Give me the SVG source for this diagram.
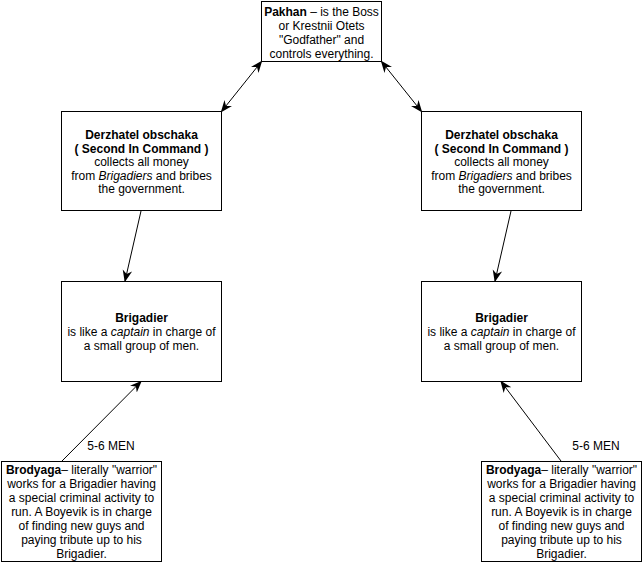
<svg xmlns="http://www.w3.org/2000/svg" width="643" height="563" viewBox="0 0 643 563">
<style>
.box{fill:#fff;stroke:#000;stroke-width:1}
.t{font-family:"Liberation Sans",Arial,Helvetica,sans-serif;font-size:12px;fill:#000;text-anchor:middle}
.edge{stroke:#000;stroke-width:1;fill:none}
</style>
<defs>
<marker id="ah" markerUnits="userSpaceOnUse" markerWidth="12" markerHeight="12" viewBox="0 0 10 10" refX="9" refY="5" orient="auto">
<path d="M0,1 L10,5 L0,9 L3,5 z" fill="#000"/>
</marker>
<marker id="as" markerUnits="userSpaceOnUse" markerWidth="12" markerHeight="12" viewBox="0 0 10 10" refX="1" refY="5" orient="auto">
<path d="M10,1 L0,5 L10,9 L7,5 z" fill="#000"/>
</marker>
</defs>
<g id="connectors">
<line class="edge" x1="261.5" y1="61.5" x2="221.5" y2="111.5" marker-start="url(#as)" marker-end="url(#ah)"/>
<line class="edge" x1="381.5" y1="61.5" x2="421.5" y2="111.5" marker-start="url(#as)" marker-end="url(#ah)"/>
<line class="edge" x1="141" y1="211" x2="125" y2="281" marker-end="url(#ah)"/>
<line class="edge" x1="511" y1="211" x2="495" y2="281" marker-end="url(#ah)"/>
<line class="edge" x1="62" y1="461" x2="141" y2="381.5" marker-end="url(#ah)"/>
<line class="edge" x1="561" y1="461" x2="501" y2="381.5" marker-end="url(#ah)"/>
<text class="t" x="111" y="449.5">5-6 MEN</text>
<text class="t" x="596" y="449.5">5-6 MEN</text>
</g>
<g id="pakhan">
<rect class="box" x="261.5" y="1.5" width="120" height="60"/>
<text class="t" x="321.5" y="16"><tspan font-weight="bold">Pakhan</tspan> – is the Boss</text>
<text class="t" x="321.5" y="30">or Krestnii Otets</text>
<text class="t" x="321.5" y="44">"Godfather" and</text>
<text class="t" x="321.5" y="58">controls everything.</text>
</g>
<g id="derzhatel-left">
<rect class="box" x="61.5" y="111.5" width="160" height="99"/>
<text class="t" x="141.5" y="138.5" font-weight="bold">Derzhatel obschaka</text>
<text class="t" x="141.5" y="152.5" font-weight="bold">( Second In Command )</text>
<text class="t" x="141.5" y="166">collects all money</text>
<text class="t" x="141.5" y="179.5">from <tspan font-style="italic">Brigadiers</tspan> and bribes</text>
<text class="t" x="141.5" y="193">the government.</text>
</g>
<g id="derzhatel-right">
<rect class="box" x="421.5" y="111.5" width="160" height="99"/>
<text class="t" x="501.5" y="138.5" font-weight="bold">Derzhatel obschaka</text>
<text class="t" x="501.5" y="152.5" font-weight="bold">( Second In Command )</text>
<text class="t" x="501.5" y="166">collects all money</text>
<text class="t" x="501.5" y="179.5">from <tspan font-style="italic">Brigadiers</tspan> and bribes</text>
<text class="t" x="501.5" y="193">the government.</text>
</g>
<g id="brigadier-left">
<rect class="box" x="61.5" y="281.5" width="160" height="100"/>
<text class="t" x="141.5" y="322" font-weight="bold">Brigadier</text>
<text class="t" x="141.5" y="335.5">is like a <tspan font-style="italic">captain</tspan> in charge of</text>
<text class="t" x="141.5" y="349.5">a small group of men.</text>
</g>
<g id="brigadier-right">
<rect class="box" x="421.5" y="281.5" width="160" height="100"/>
<text class="t" x="501.5" y="322" font-weight="bold">Brigadier</text>
<text class="t" x="501.5" y="335.5">is like a <tspan font-style="italic">captain</tspan> in charge of</text>
<text class="t" x="501.5" y="349.5">a small group of men.</text>
</g>
<g id="brodyaga-left">
<rect class="box" x="1.5" y="461.5" width="160" height="100"/>
<text class="t" x="81.5" y="473.5"><tspan font-weight="bold">Brodyaga</tspan>– literally "warrior"</text>
<text class="t" x="81.5" y="487.5">works for a Brigadier having</text>
<text class="t" x="81.5" y="501.5">a special criminal activity to</text>
<text class="t" x="81.5" y="515.5">run. A Boyevik is in charge</text>
<text class="t" x="81.5" y="529.5">of finding new guys and</text>
<text class="t" x="81.5" y="543.5">paying tribute up to his</text>
<text class="t" x="81.5" y="557.5">Brigadier.</text>
</g>
<g id="brodyaga-right">
<rect class="box" x="481.5" y="461.5" width="160" height="100"/>
<text class="t" x="561.5" y="473.5"><tspan font-weight="bold">Brodyaga</tspan>– literally "warrior"</text>
<text class="t" x="561.5" y="487.5">works for a Brigadier having</text>
<text class="t" x="561.5" y="501.5">a special criminal activity to</text>
<text class="t" x="561.5" y="515.5">run. A Boyevik is in charge</text>
<text class="t" x="561.5" y="529.5">of finding new guys and</text>
<text class="t" x="561.5" y="543.5">paying tribute up to his</text>
<text class="t" x="561.5" y="557.5">Brigadier.</text>
</g>
</svg>
